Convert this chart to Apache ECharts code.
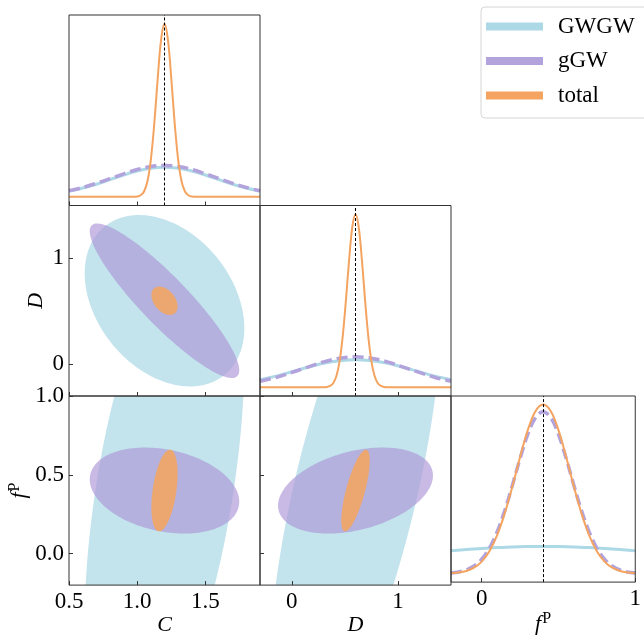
<!DOCTYPE html>
<html><head><meta charset="utf-8">
<script src="https://cdn.jsdelivr.net/npm/echarts@6/dist/echarts.min.js"></script>
<style>html,body{margin:0;padding:0;background:#fff}#c{width:644px;height:637px}</style>
</head><body><div id="c"></div>
<script>
// ---- data ----
const paramNames = ['C', 'D', 'fP'];
const truth = [1.2, 0.6, 0.4];
const ranges = [[0.5, 1.9], [-0.3, 1.5], [-0.2, 1.0]];
const cTickLabels = ['0.5', '1.0', '1.5'];
const dTickLabels = ['0', '1'];
const fpTickLabelsX = ['0', '1'];
const fpTickLabelsY = ['0.0', '0.5', '1.0'];

// marginal curves (normalised so total peak = 1)
const cGrid = [0.5,0.6,0.7,0.8,0.9,1.0,1.1,1.2,1.3,1.4,1.5,1.6,1.7,1.8,1.9];
const cGWGW = [0.033,0.051,0.073,0.099,0.126,0.149,0.165,0.171,0.165,0.149,0.126,0.099,0.073,0.051,0.033];
const cGGW  = [0.035,0.054,0.078,0.105,0.133,0.158,0.175,0.181,0.175,0.158,0.133,0.105,0.078,0.054,0.035];
const cFine = [0.5,0.975,1.0,1.025,1.05,1.075,1.1,1.125,1.15,1.175,1.2,1.225,1.25,1.275,1.3,1.325,1.35,1.375,1.4,1.425,1.9];
const cTotal = [0,0.000,0.002,0.009,0.031,0.090,0.215,0.421,0.681,0.908,1.000,0.908,0.681,0.421,0.215,0.090,0.031,0.009,0.002,0.000,0];

const dGrid = [-0.3,-0.15,0,0.15,0.3,0.45,0.6,0.75,0.9,1.05,1.2,1.35,1.5];
const dGWGW = [0.044,0.065,0.090,0.116,0.139,0.154,0.160,0.154,0.139,0.116,0.090,0.065,0.044];
const dGGW  = [0.035,0.057,0.086,0.117,0.147,0.168,0.176,0.168,0.147,0.117,0.086,0.057,0.035];
const dFine = [-0.3,0.3,0.33,0.36,0.39,0.42,0.45,0.48,0.51,0.54,0.57,0.6,0.63,0.66,0.69,0.72,0.75,0.78,0.81,0.84,0.87,0.9,1.5];
const dTotal = [0,0.000,0.002,0.008,0.024,0.065,0.150,0.297,0.505,0.738,0.927,1.000,0.927,0.738,0.505,0.297,0.150,0.065,0.024,0.008,0.002,0.000,0];

const fCoarse = [-0.2,-0.1,0,0.1,0.2,0.3,0.4,0.5,0.6,0.7,0.8,0.9,1.0];
const fGWGW = [0.136,0.143,0.149,0.154,0.158,0.160,0.161,0.160,0.158,0.154,0.149,0.143,0.136];
const fGrid = [-0.2,-0.15,-0.1,-0.05,0,0.05,0.1,0.15,0.2,0.25,0.3,0.35,0.4,0.45,0.5,0.55,0.6,0.65,0.7,0.75,0.8,0.85,0.9,0.95,1.0];
const fGGW  = [0.004,0.010,0.022,0.045,0.085,0.150,0.246,0.373,0.523,0.681,0.823,0.922,0.957,0.922,0.823,0.681,0.523,0.373,0.246,0.150,0.085,0.045,0.022,0.010,0.004];
const fTotal = [0.003,0.007,0.016,0.035,0.071,0.132,0.226,0.356,0.516,0.690,0.848,0.960,1.000,0.960,0.848,0.690,0.516,0.356,0.226,0.132,0.071,0.035,0.016,0.007,0.003];

// 2-D contours: half extent per parameter [C, D, fP] and correlation per pair [(C,D), (C,fP), (D,fP)]
const gwgwHalf = [0.585, 0.81, 1.67];
const ggwHalf  = [0.548, 0.73, 0.273];
const totalHalf = [0.096, 0.134, 0.259];
const gwgwRho  = [-0.32, 0.50, 0.68];
const ggwRho   = [-0.90, -0.26, 0.35];
const totalRho = [-0.40, 0.41, 0.73];

// ---- styling ----
const FONT = 'Liberation Serif';
const COL = {
  GWGW: {line: '#add8e6', fill: 'rgba(173,216,230,0.73)'},
  gGW: {line: '#b3a3dc', fill: 'rgba(172,150,214,0.66)'},
  total: {line: '#f4a460', fill: 'rgba(244,164,96,0.88)'}
};
const FRAME = '#333';

const gridBoxes = [
  {left: 69, top: 15, width: 191, height: 190.5},
  {left: 69, top: 205.5, width: 191, height: 190.5},
  {left: 260, top: 205.5, width: 191, height: 190.5},
  {left: 69, top: 396, width: 191, height: 191},
  {left: 260, top: 396, width: 191, height: 191},
  {left: 451, top: 396, width: 191, height: 191}
];
const grid = gridBoxes.map(b => Object.assign({show: true, borderColor: FRAME, borderWidth: 1, backgroundColor: 'transparent', z: 10}, b));

function axisBase(idx, range, labels, showLabels, extra) {
  const vals = labels ? labels.map(Number) : [];
  const a = {
    gridIndex: idx, type: 'value', min: range[0], max: range[1], z: 10,
    axisLine: {show: false, onZero: false},
    splitLine: {show: false},
    axisTick: labels ? {show: true, inside: true, length: 4, customValues: vals, lineStyle: {color: FRAME, width: 1}} : {show: false},
    axisLabel: labels && showLabels ? {
      show: true, customValues: vals, fontFamily: FONT, fontSize: 23, color: '#000', margin: 5,
      formatter: v => { const i = vals.findIndex(x => Math.abs(x - v) < 1e-9); return i >= 0 ? labels[i] : ''; }
    } : {show: false}
  };
  return Object.assign(a, extra || {});
}
const nameStyleItalic = {fontFamily: FONT, fontSize: 22, fontStyle: 'italic', color: '#000'};
const fpRich = {
  fontFamily: FONT, color: '#000',
  rich: {
    i: {fontFamily: FONT, fontStyle: 'italic', fontSize: 22, lineHeight: 26, color: '#000'},
    s: {fontFamily: FONT, fontSize: 16, lineHeight: 26, verticalAlign: 'top', color: '#000', padding: [0, 0, 9, 1]}
  }
};
const pdfRange = [-0.05, 1.05];

const xAxis = [
  axisBase(0, ranges[0], cTickLabels, false),
  axisBase(1, ranges[0], cTickLabels, false),
  axisBase(2, ranges[1], dTickLabels, false),
  axisBase(3, ranges[0], cTickLabels, true, {name: 'C', nameLocation: 'middle', nameGap: 28, nameTextStyle: nameStyleItalic}),
  axisBase(4, ranges[1], dTickLabels, true, {name: 'D', nameLocation: 'middle', nameGap: 28, nameTextStyle: nameStyleItalic}),
  axisBase(5, ranges[2], fpTickLabelsX, true, {name: '{i|f}{s|P}', nameLocation: 'middle', nameGap: 23, nameTextStyle: fpRich})
];
const yAxis = [
  axisBase(0, pdfRange, null, false),
  axisBase(1, ranges[1], dTickLabels, true, {name: 'D', nameLocation: 'middle', nameGap: 22, nameTextStyle: nameStyleItalic}),
  axisBase(2, pdfRange, null, false),
  axisBase(3, ranges[2], fpTickLabelsY, true, {name: '{i|f}{s|P}', nameLocation: 'middle', nameGap: 35, nameTextStyle: fpRich}),
  axisBase(4, ranges[2], fpTickLabelsY, false),
  axisBase(5, pdfRange, null, false)
];

function zip(xs, ys) { return xs.map((x, i) => [x, ys[i]]); }

function ellipse(name, gridIdx, xi, yi, half, rho, pairIdx) {
  return {
    type: 'custom', name: name, xAxisIndex: gridIdx, yAxisIndex: gridIdx, clip: true, z: 1, silent: true,
    itemStyle: {color: COL[name].line},
    dimensions: ['x', 'y', 'hx', 'hy', 'rho'],
    encode: {x: 0, y: 1},
    data: [[truth[xi], truth[yi], half[xi], half[yi], rho[pairIdx]]],
    renderItem: function (params, api) {
      const cx = api.value(0), cy = api.value(1), a = api.value(2), b = api.value(3), r = api.value(4);
      const s = Math.sqrt(1 - r * r);
      const pts = [];
      const N = 160;
      for (let k = 0; k < N; k++) {
        const t = 2 * Math.PI * k / N;
        pts.push(api.coord([cx + a * Math.cos(t), cy + b * (r * Math.cos(t) + s * Math.sin(t))]));
      }
      return {type: 'polygon', shape: {points: pts}, style: {fill: COL[name].fill}};
    }
  };
}

const pairs = [[1, 0, 1, 0], [3, 0, 2, 1], [4, 1, 2, 2]]; // grid, xParam, yParam, pairIdx
const series = [];
const sets = [['GWGW', gwgwHalf, gwgwRho], ['gGW', ggwHalf, ggwRho], ['total', totalHalf, totalRho]];
// ellipses first so the legend uses the plain swatch
sets.forEach(([name, half, rho]) => {
  pairs.forEach(([g, xi, yi, pi]) => series.push(ellipse(name, g, xi, yi, half, rho, pi)));
});

function curve(name, g, data, width, dashed, truthX) {
  const s = {
    type: 'line', name: name, xAxisIndex: g, yAxisIndex: g, data: data, showSymbol: false, symbol: 'none',
    smooth: 0.35, silent: true, z: 3,
    lineStyle: {color: COL[name].line, width: width, type: dashed ? [11, 5] : 'solid', cap: 'butt'},
    itemStyle: {color: COL[name].line}
  };
  if (truthX !== undefined) {
    s.markLine = {silent: true, symbol: ['none', 'none'], label: {show: false}, animation: false,
      lineStyle: {color: '#000', width: 1, type: [3, 2]}, data: [{xAxis: truthX}]};
  }
  return s;
}
series.push(curve('GWGW', 0, zip(cGrid, cGWGW), 3, false));
series.push(curve('gGW', 0, zip(cGrid, cGGW), 3.5, true));
series.push(curve('total', 0, zip(cFine, cTotal), 2, false, truth[0]));
series.push(curve('GWGW', 2, zip(dGrid, dGWGW), 3, false));
series.push(curve('gGW', 2, zip(dGrid, dGGW), 3.5, true));
series.push(curve('total', 2, zip(dFine, dTotal), 2, false, truth[1]));
series.push(curve('GWGW', 5, zip(fCoarse, fGWGW), 3, false));
series.push(curve('gGW', 5, zip(fGrid, fGGW), 3.5, true));
series.push(curve('total', 5, zip(fGrid, fTotal), 2, false, truth[2]));

const chart = echarts.init(document.getElementById('c'), null, {renderer: 'canvas'});
chart.setOption({
  animation: false,
  backgroundColor: '#fff',
  grid: grid,
  xAxis: xAxis,
  yAxis: yAxis,
  legend: {
    orient: 'vertical', left: 481, top: 7, selectedMode: false,
    itemWidth: 57, itemHeight: 8, itemGap: 11.5,
    padding: [8, 14, 11, 5],
    backgroundColor: '#fff', borderColor: '#d6d6d6', borderWidth: 1, borderRadius: 4,
    textStyle: {fontFamily: FONT, fontSize: 23, lineHeight: 23, color: '#000', padding: [0, 0, 0, 10]},
    data: ['GWGW', 'gGW', 'total'].map(n => ({name: n, icon: 'rect', itemStyle: {color: COL[n].line, borderWidth: 0}}))
  },
  series: series
});
</script></body></html>
